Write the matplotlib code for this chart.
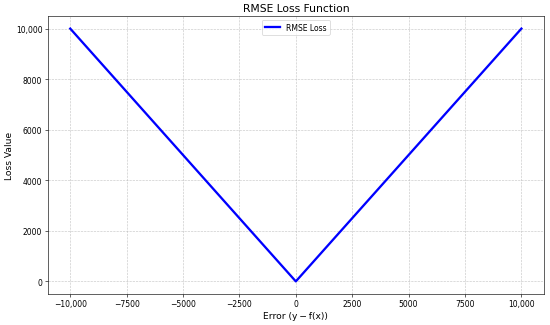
import numpy as np
import matplotlib
matplotlib.use("Agg")
import matplotlib.pyplot as plt
from matplotlib.ticker import FuncFormatter

# data
errors = [-10000, 0, 10000]
loss_values = [10000, 0, 10000]

fig = plt.figure(figsize=(10, 5.927), dpi=55)
ax = fig.add_axes([0.0867, 0.095, 0.9023, 0.853])
ax.plot(errors, loss_values, color="blue", linewidth=3, label="RMSE Loss")
ax.set_title("RMSE Loss Function", fontsize=14)
ax.set_xlabel("Error (y\u2009\u2212\u2009f(x))", fontsize=12)
ax.set_ylabel("Loss Value", fontsize=12, labelpad=2)
ax.grid(True, linestyle="--", alpha=0.7)
ax.legend(loc="upper center", fontsize=10)

def fmt(v, pos):
    v = int(round(v))
    if abs(v) >= 10000:
        s = f"{abs(v):,}"
    else:
        s = f"{abs(v)}"
    return ("\u2212" + s) if v < 0 else s

ax.xaxis.set_major_formatter(FuncFormatter(fmt))
ax.yaxis.set_major_formatter(FuncFormatter(fmt))
ax.tick_params(labelsize=10)
fig.savefig("out.png", dpi=55)
